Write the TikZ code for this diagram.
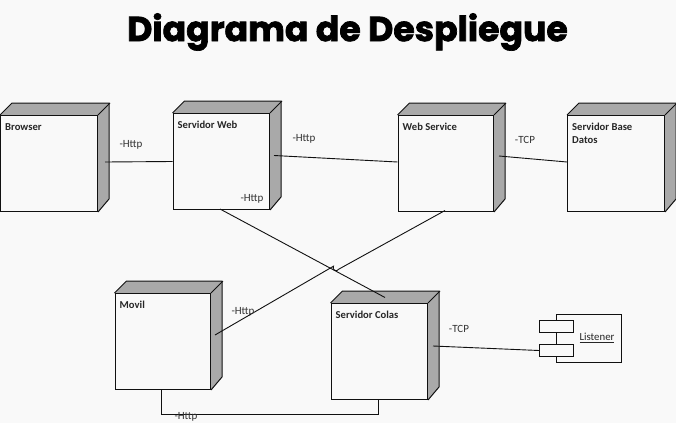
\documentclass[tikz,border=0pt]{standalone}
\usepackage{fontspec}
\setmainfont{Carlito}
\newfontfamily\titlefont{Poppins}[BoldFont={* Bold}]
\definecolor{bgc}{HTML}{F9F9F9}
\definecolor{sidec}{HTML}{A9A9A9}
\definecolor{inkc}{HTML}{111111}
\tikzset{
  x=1pt,y=-1pt,
  frontbox/.style={draw=inkc,line width=1pt,fill=bgc,minimum width=#1,minimum height=96pt,inner sep=0pt,anchor=north west},
  nodelabel/.style={font=\fontsize{10.6}{13}\selectfont\bfseries,text=black!85,anchor=north west,inner sep=0pt,align=left},
  conn/.style={draw=inkc,line width=0.9pt},
  ptext/.style={font=\fontsize{11}{12}\selectfont,text=black!80,inner sep=0pt},
  portbox/.style={draw=inkc,line width=1pt,fill=bgc,minimum width=34pt,minimum height=12pt,inner sep=0pt}
}
% #1 name, #2 x, #3 y, #4 width, #5 text
\newcommand{\deploybox}[5]{
  \node[frontbox=#4] (#1) at (#2,#3) {};
  \fill[sidec] (#1.north west) -- ++(12,-12) -- ++(#4,0) -- ++(0,96) -- (#1.south east) -- (#1.north east) -- cycle;
  \draw[inkc,line width=1pt,line join=round] (#1.north west) -- ++(12,-12) -- ++(#4,0) -- ++(0,96) -- (#1.south east);
  \draw[inkc,line width=1pt] (#1.north east) -- ++(12,-12);
  \node[frontbox=#4] at (#2,#3) {};
  \node[nodelabel] at (#2+5,#3+8) {#5};
}
\begin{document}
\begin{tikzpicture}
\useasboundingbox (0,0) rectangle (676,423);
\fill[bgc] (0,0) rectangle (676,423);
\node[font=\titlefont\fontsize{34.7}{40}\selectfont\bfseries,text=black,inner sep=0pt] (title) at (347.5,32) {\special{pdf:literal 2 Tr 0.7 w}Diagrama de Despliegue\special{pdf:literal 0 Tr 0 w}};

\deploybox{browser}{0}{115}{97}{Browser}
\deploybox{web}{172.5}{113}{96.5}{Servidor Web}
\deploybox{ws}{397.5}{115}{95.5}{Web Service}
\deploybox{db}{567}{115}{97}{Servidor Base\\Datos}
\deploybox{movil}{114.5}{293}{95.5}{Movil}
\deploybox{colas}{330.5}{303}{96.5}{Servidor Colas}

% free-end anchors on the side faces
\coordinate (bs) at (105,162);
\coordinate (wside) at (274,155.5);
\coordinate (wsside) at (499,156);
\coordinate (wbot) at (220,209);
\coordinate (ctop) at (385,297.5);
\coordinate (mside) at (215,335);
\coordinate (wsbot) at (445,210.5);
\coordinate (mbot) at (161.5,389);
\coordinate (cbot) at (378.5,399);
\coordinate (cside) at (433,346);

% listener component
\node[draw=inkc,line width=1pt,fill=bgc,minimum width=65pt,minimum height=48pt,inner sep=0pt] (listener) at (589.2,338) {};
\node[portbox] (p1) at (556.5,326.5) {};
\node[portbox] (p2) at (556.5,350.5) {};
\node[font=\fontsize{10.8}{12}\selectfont,text=black!85,inner sep=0pt] (ltxt) at (597,338) {\underline{Listener}};

\draw[conn] (bs) -- (web.west |- 0,161.5);
\draw[conn] (wside) -- (ws.west |- 0,162);
\draw[conn] (wsside) -- (db.west |- 0,162);
\draw[conn] (wbot) -- (ctop);
\draw[conn] (mside) -- (333.5,266.2) arc[start angle=210,end angle=30,radius=3] -- (wsbot);
\draw[conn] (mbot) -- (161.5,414) -- (378.5,414) -- (cbot);
\draw[conn] (cside) -- (p2.west);

\node[ptext] (h1) at (131,145) {-Http};
\node[ptext] (h2) at (304,138.5) {-Http};
\node[ptext] (h3) at (252,199) {-Http};
\node[ptext] (h4) at (243,312) {-Http};
\node[ptext] (h5) at (186,417) {-Http};
\node[ptext] (t1) at (525,139.5) {-TCP};
\node[ptext] (t2) at (459,328.5) {-TCP};
\end{tikzpicture}
\end{document}
